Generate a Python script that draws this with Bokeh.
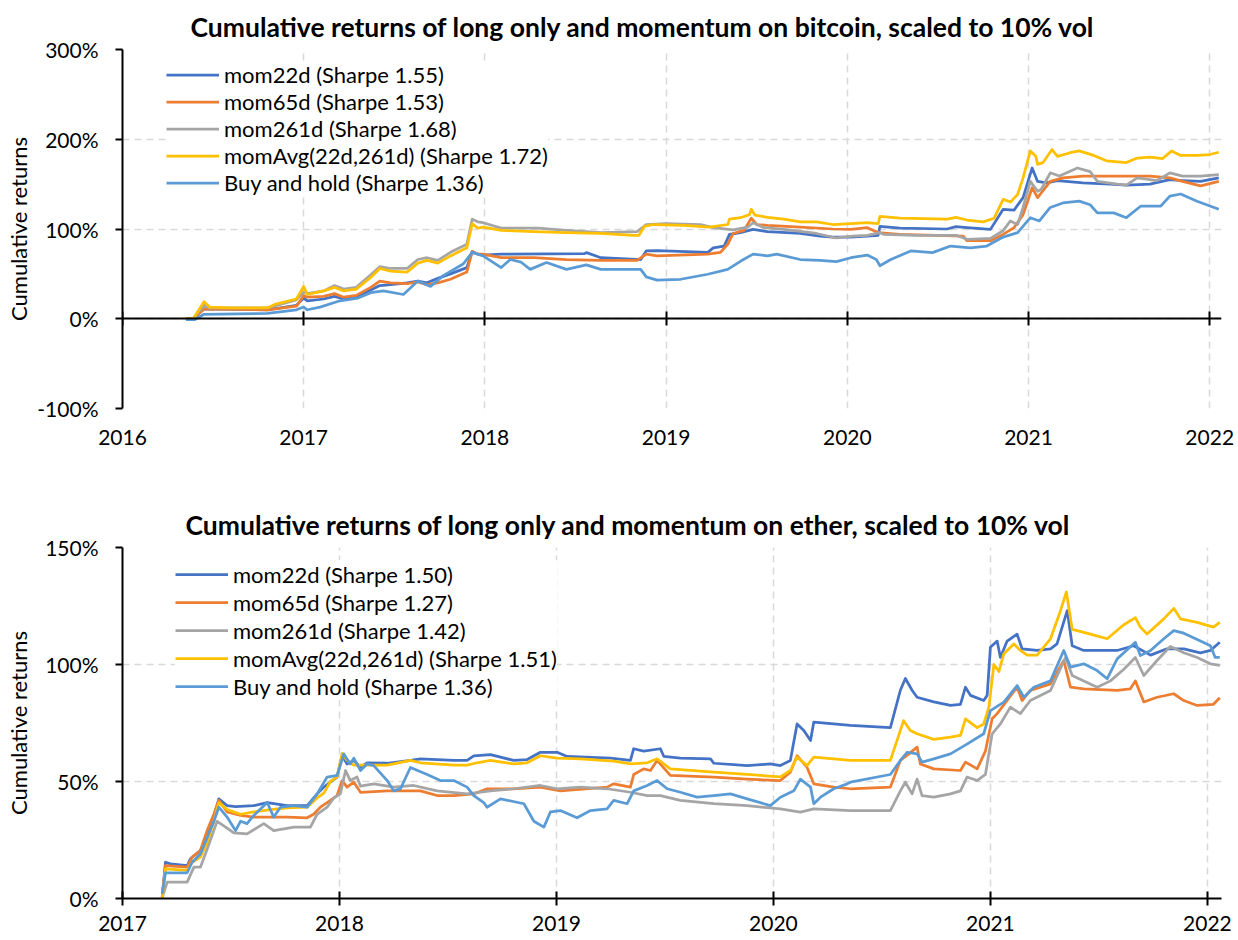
from bokeh.plotting import figure
from bokeh.models import (Range1d, FixedTicker, NumeralTickFormatter, PrintfTickFormatter,
                          LinearAxis, Legend, LegendItem, CustomJSTickFormatter)
from bokeh.layouts import column
from bokeh.embed import file_html
from bokeh.resources import INLINE

FONT = "Lato"
SERIES_NAMES = ["mom22d", "mom65d", "mom261d", "momAvg(22d,261d)", "Buy and hold"]
COLORS = ["#4472C4", "#ED7D31", "#A5A5A5", "#FFC000", "#5B9BD5"]

btc_title = "Cumulative returns of long only and momentum on bitcoin, scaled to 10% vol"
eth_title = "Cumulative returns of long only and momentum on ether, scaled to 10% vol"
btc_sharpe = ["1.55", "1.53", "1.68", "1.72", "1.36"]
eth_sharpe = ["1.50", "1.27", "1.42", "1.51", "1.36"]
btc_year_ticks = [2016, 2017, 2018, 2019, 2020, 2021, 2022]
eth_year_ticks = [2017, 2018, 2019, 2020, 2021, 2022]
btc_pct_ticks = [-100, 0, 100, 200, 300]
eth_pct_ticks = [0, 50, 100, 150]

# (decimal year, cumulative return in %)
btc_mom22d = [
    (2016.35, 0), (2016.39, 0), (2016.45, 11), (2016.80, 10), (2016.96, 15), (2017.00, 23),
    (2017.02, 20), (2017.11, 22), (2017.17, 25), (2017.22, 22), (2017.29, 24), (2017.37, 32),
    (2017.42, 37), (2017.48, 38), (2017.57, 40), (2017.63, 42), (2017.68, 40), (2017.74, 45),
    (2017.81, 50), (2017.90, 57), (2017.93, 75), (2017.96, 72), (2017.99, 71), (2018.09, 72),
    (2018.55, 72.6), (2018.56, 73.7), (2018.64, 68), (2018.86, 66), (2018.89, 75.5), (2018.95, 76),
    (2019.23, 74), (2019.26, 79), (2019.32, 81), (2019.35, 94), (2019.41, 96), (2019.48, 99.6),
    (2019.56, 97), (2019.74, 95), (2019.85, 92), (2019.92, 91), (2020.02, 91), (2020.11, 92),
    (2020.17, 93), (2020.18, 103), (2020.29, 101), (2020.55, 100), (2020.60, 102.6), (2020.66, 101.5),
    (2020.79, 99.6), (2020.86, 122), (2020.92, 121), (2020.97, 135), (2021.02, 168), (2021.05, 153),
    (2021.10, 151.5), (2021.16, 154), (2021.30, 151.5), (2021.45, 150), (2021.54, 149), (2021.67, 150),
    (2021.78, 155), (2021.85, 154), (2021.95, 153), (2022.05, 157)]
btc_mom65d = [
    (2016.35, 0), (2016.39, 0), (2016.45, 11), (2016.80, 10), (2016.96, 14), (2017.00, 26),
    (2017.02, 24), (2017.11, 25), (2017.17, 28), (2017.22, 24), (2017.29, 26), (2017.37, 35),
    (2017.42, 42), (2017.48, 40), (2017.57, 39), (2017.63, 41), (2017.68, 38), (2017.74, 40),
    (2017.81, 44), (2017.90, 52), (2017.93, 75), (2017.96, 72), (2017.99, 72), (2018.09, 68),
    (2018.27, 68), (2018.45, 66), (2018.64, 65), (2018.84, 65), (2018.89, 72), (2018.95, 70),
    (2019.23, 72), (2019.30, 74), (2019.34, 83), (2019.37, 95), (2019.43, 98.5), (2019.47, 112),
    (2019.50, 105), (2019.56, 104), (2019.74, 102), (2019.92, 100), (2020.02, 99.6), (2020.11, 101.5),
    (2020.17, 96), (2020.29, 94), (2020.64, 92), (2020.66, 87), (2020.79, 87), (2020.86, 94),
    (2020.92, 101.5), (2020.97, 116), (2021.02, 146), (2021.05, 135), (2021.12, 153), (2021.19, 157),
    (2021.30, 159), (2021.49, 159), (2021.67, 159), (2021.78, 157), (2021.85, 153), (2021.95, 148),
    (2022.05, 153)]
btc_mom261d = [
    (2016.35, 0), (2016.39, 0), (2016.45, 15), (2016.48, 12), (2016.80, 12), (2016.96, 21),
    (2017.00, 30), (2017.02, 28), (2017.11, 31), (2017.17, 37), (2017.22, 33), (2017.29, 35),
    (2017.37, 49), (2017.42, 58), (2017.48, 56), (2017.57, 56), (2017.63, 66), (2017.68, 68),
    (2017.74, 65), (2017.81, 74), (2017.90, 83), (2017.93, 111), (2017.96, 108), (2017.99, 107),
    (2018.09, 101), (2018.29, 101), (2018.45, 98.5), (2018.64, 96), (2018.84, 97), (2018.89, 105),
    (2019.00, 106), (2019.19, 105), (2019.26, 101.5), (2019.37, 99), (2019.45, 102), (2019.48, 107),
    (2019.54, 101.5), (2019.65, 99.6), (2019.83, 95), (2019.94, 90), (2020.03, 92), (2020.11, 93),
    (2020.18, 96), (2020.20, 94), (2020.38, 93), (2020.60, 93), (2020.66, 88.5), (2020.79, 89.6),
    (2020.86, 98), (2020.90, 109), (2020.94, 105), (2020.97, 124), (2021.01, 153), (2021.05, 142),
    (2021.07, 144), (2021.12, 162.6), (2021.17, 159), (2021.27, 168), (2021.34, 164), (2021.38, 153),
    (2021.49, 150), (2021.54, 149), (2021.60, 157), (2021.71, 154), (2021.78, 162.6), (2021.85, 159),
    (2021.95, 159), (2022.05, 160.7)]
btc_momavg = [
    (2016.35, 0), (2016.39, 0), (2016.45, 19), (2016.48, 13), (2016.60, 12), (2016.80, 12),
    (2016.84, 16), (2016.96, 22), (2017.00, 36), (2017.02, 27), (2017.11, 31), (2017.17, 35),
    (2017.22, 31), (2017.29, 33), (2017.37, 46), (2017.42, 56), (2017.48, 53), (2017.57, 52),
    (2017.63, 62), (2017.68, 65), (2017.74, 62), (2017.81, 70), (2017.90, 79), (2017.93, 106),
    (2017.96, 101), (2017.99, 102), (2018.09, 98.5), (2018.27, 97), (2018.45, 96), (2018.64, 95),
    (2018.82, 93), (2018.85, 93), (2018.88, 103), (2018.93, 105), (2019.10, 104), (2019.24, 102),
    (2019.34, 105), (2019.35, 111), (2019.41, 112.6), (2019.46, 116), (2019.47, 122), (2019.49, 115.5),
    (2019.56, 113), (2019.65, 111), (2019.74, 108), (2019.83, 108), (2019.92, 105), (2020.02, 106),
    (2020.11, 107), (2020.17, 106), (2020.18, 114), (2020.29, 112), (2020.55, 111), (2020.60, 113),
    (2020.66, 110), (2020.75, 108), (2020.81, 112), (2020.86, 133), (2020.90, 130), (2020.94, 138.5),
    (2020.97, 157), (2021.01, 187), (2021.04, 181), (2021.05, 172), (2021.08, 174), (2021.13, 188.5),
    (2021.16, 181), (2021.23, 185), (2021.28, 187), (2021.36, 182), (2021.43, 176), (2021.54, 174),
    (2021.60, 179), (2021.67, 180), (2021.74, 178.5), (2021.79, 187), (2021.84, 182), (2021.93, 182),
    (2022.00, 183), (2022.05, 185.5)]
btc_buyhold = [
    (2016.35, -1), (2016.40, -1), (2016.45, 5), (2016.80, 6), (2016.96, 10), (2017.00, 13),
    (2017.02, 10), (2017.09, 13), (2017.20, 20), (2017.30, 23), (2017.37, 29), (2017.44, 31),
    (2017.55, 27), (2017.63, 42), (2017.70, 36), (2017.77, 48), (2017.88, 61), (2017.93, 74),
    (2017.99, 70), (2018.09, 57), (2018.14, 66), (2018.20, 63), (2018.25, 55), (2018.34, 62.6),
    (2018.45, 55), (2018.56, 60), (2018.64, 55), (2018.86, 55), (2018.89, 46.7), (2018.95, 43),
    (2019.08, 44), (2019.23, 49.6), (2019.34, 55), (2019.41, 64), (2019.48, 72), (2019.56, 70),
    (2019.61, 72), (2019.74, 66), (2019.85, 65), (2019.94, 63.7), (2020.02, 68), (2020.11, 71),
    (2020.16, 66), (2020.18, 59), (2020.24, 66), (2020.35, 75.5), (2020.47, 73.7), (2020.57, 81),
    (2020.68, 79), (2020.77, 81), (2020.86, 91), (2020.94, 96), (2021.01, 112.6), (2021.06, 109),
    (2021.12, 124), (2021.19, 129), (2021.28, 131), (2021.34, 127), (2021.38, 118), (2021.47, 118),
    (2021.54, 112.6), (2021.62, 125.6), (2021.73, 125.6), (2021.78, 136.7), (2021.84, 139),
    (2021.93, 131), (2022.05, 122)]

eth_mom22d = [
    (2017.183, 0.6), (2017.198, 15.5), (2017.221, 14.8), (2017.298, 14), (2017.313, 17), (2017.359, 20.5),
    (2017.390, 26), (2017.421, 35), (2017.444, 42.6), (2017.482, 39.7), (2017.521, 39.3), (2017.605, 39.7),
    (2017.667, 41), (2017.759, 39.7), (2017.851, 39.7), (2017.897, 44.7), (2017.928, 47.6), (2017.958, 49.7),
    (2017.989, 51.9), (2018.012, 61), (2018.035, 57.5), (2018.066, 59), (2018.097, 56), (2018.127, 58),
    (2018.220, 57.8), (2018.327, 59), (2018.373, 59.7), (2018.527, 59), (2018.588, 59), (2018.619, 61),
    (2018.696, 61.5), (2018.803, 59), (2018.865, 59.4), (2018.926, 62.5), (2019.003, 62.5), (2019.049, 60.7),
    (2019.249, 60), (2019.341, 59), (2019.356, 64), (2019.402, 63), (2019.479, 64), (2019.495, 60.7),
    (2019.571, 60), (2019.710, 59.7), (2019.725, 57.8), (2019.879, 56.8), (2019.986, 57.5), (2020.032, 56.8),
    (2020.078, 59), (2020.109, 74.6), (2020.140, 71.8), (2020.171, 67.5), (2020.186, 75.4), (2020.355, 74),
    (2020.539, 73), (2020.585, 89), (2020.608, 94), (2020.639, 89), (2020.662, 86), (2020.739, 84),
    (2020.816, 82.5), (2020.862, 83), (2020.885, 90.3), (2020.908, 86.8), (2020.969, 84.6), (2020.985, 86.8),
    (2021.000, 107.4), (2021.031, 110), (2021.046, 103), (2021.077, 110), (2021.123, 113), (2021.146, 106.7),
    (2021.215, 106), (2021.277, 106.7), (2021.307, 108.8), (2021.354, 123), (2021.377, 108), (2021.430, 106),
    (2021.584, 106), (2021.660, 108), (2021.738, 104), (2021.814, 106.7), (2021.891, 106.7), (2021.968, 105),
    (2022.014, 106), (2022.057, 109.5)]
eth_mom65d = [
    (2017.183, 0.6), (2017.198, 14), (2017.298, 13.4), (2017.321, 17.7), (2017.359, 20.5), (2017.390, 29),
    (2017.421, 36), (2017.444, 42), (2017.482, 37), (2017.544, 35.5), (2017.605, 34.8), (2017.759, 34.8),
    (2017.851, 34.5), (2017.881, 36), (2017.912, 39), (2017.943, 41), (2017.989, 44), (2018.012, 50.4),
    (2018.035, 47.6), (2018.066, 49.7), (2018.097, 45.4), (2018.220, 46), (2018.373, 46), (2018.450, 44),
    (2018.527, 44), (2018.619, 44.7), (2018.681, 46.9), (2018.803, 46.9), (2018.926, 47.6), (2019.018, 46),
    (2019.233, 47.6), (2019.264, 49), (2019.341, 47.6), (2019.356, 53), (2019.402, 55.4), (2019.433, 54.7),
    (2019.464, 59), (2019.525, 52.6), (2019.725, 51.9), (2019.879, 51), (2020.032, 50.4), (2020.078, 54),
    (2020.109, 61), (2020.155, 56), (2020.186, 49), (2020.278, 47.6), (2020.355, 46.9), (2020.539, 47.6),
    (2020.585, 59), (2020.624, 61.8), (2020.662, 64.7), (2020.677, 57.5), (2020.739, 55.4), (2020.862, 54.7),
    (2020.885, 58.3), (2020.939, 55.4), (2020.977, 63), (2021.008, 76.8), (2021.031, 79), (2021.077, 84.6),
    (2021.123, 90.3), (2021.146, 84.6), (2021.184, 88.9), (2021.277, 91.7), (2021.338, 101.7), (2021.369, 90.3),
    (2021.430, 89.6), (2021.584, 88.9), (2021.645, 89.6), (2021.668, 93), (2021.707, 84), (2021.768, 86),
    (2021.845, 87.5), (2021.891, 84.6), (2021.953, 82.5), (2022.028, 83), (2022.057, 85.8)]
eth_mom261d = [
    (2017.183, 0.3), (2017.206, 7), (2017.298, 7), (2017.329, 13.4), (2017.359, 13.4), (2017.390, 21),
    (2017.436, 33), (2017.467, 31), (2017.513, 28), (2017.574, 27.6), (2017.651, 32), (2017.697, 29),
    (2017.790, 30.5), (2017.866, 30.5), (2017.897, 36), (2017.943, 39), (2017.974, 43), (2018.004, 44.7),
    (2018.028, 54.7), (2018.050, 50.4), (2018.081, 51.9), (2018.097, 48), (2018.158, 49), (2018.250, 47.6),
    (2018.342, 48.3), (2018.450, 46), (2018.588, 44.7), (2018.696, 46), (2018.803, 46.9), (2018.926, 48.3),
    (2019.003, 46.9), (2019.110, 47.6), (2019.233, 46.9), (2019.341, 45.4), (2019.418, 44), (2019.479, 44),
    (2019.571, 41.9), (2019.725, 40.5), (2019.879, 39.7), (2020.032, 38.3), (2020.124, 36.9), (2020.186, 38.3),
    (2020.355, 37.6), (2020.539, 37.6), (2020.585, 46), (2020.608, 49.7), (2020.639, 44.7), (2020.662, 51),
    (2020.685, 44), (2020.739, 43.3), (2020.816, 44.7), (2020.862, 46), (2020.892, 51.9), (2020.939, 50.4),
    (2020.977, 53), (2021.008, 70.4), (2021.046, 74.6), (2021.092, 81.8), (2021.138, 79), (2021.184, 84.6),
    (2021.277, 88.9), (2021.346, 103), (2021.377, 95.3), (2021.430, 93), (2021.492, 90.3), (2021.553, 93),
    (2021.615, 98), (2021.668, 103), (2021.707, 95.3), (2021.768, 101.7), (2021.829, 107.7), (2021.891, 105),
    (2021.953, 103), (2022.014, 100.3), (2022.057, 99.6)]
eth_momavg = [
    (2017.183, 0), (2017.198, 12.7), (2017.298, 12), (2017.321, 15.5), (2017.359, 17.7), (2017.390, 24),
    (2017.421, 33), (2017.444, 41), (2017.482, 38), (2017.544, 36), (2017.605, 37), (2017.682, 38),
    (2017.759, 38.7), (2017.851, 39), (2017.897, 43), (2017.928, 45), (2017.958, 50), (2017.989, 52),
    (2018.012, 62), (2018.035, 59), (2018.066, 57), (2018.127, 57), (2018.220, 57), (2018.327, 59),
    (2018.373, 58), (2018.527, 57), (2018.588, 57), (2018.634, 58), (2018.696, 59), (2018.803, 57.5),
    (2018.865, 58), (2018.926, 61), (2019.003, 60), (2019.110, 59.7), (2019.264, 58.7), (2019.341, 57.5),
    (2019.418, 58), (2019.464, 59.7), (2019.525, 55.4), (2019.725, 54), (2019.879, 53), (2020.032, 52),
    (2020.078, 54.7), (2020.109, 60.4), (2020.155, 56.8), (2020.186, 60.4), (2020.355, 59), (2020.539, 59),
    (2020.600, 76), (2020.631, 71.8), (2020.662, 70.4), (2020.739, 68), (2020.816, 69), (2020.862, 69.7),
    (2020.885, 76.8), (2020.939, 73), (2020.969, 74.6), (2020.993, 81.8), (2021.016, 100), (2021.039, 97),
    (2021.062, 104.6), (2021.108, 108.8), (2021.138, 106), (2021.169, 104), (2021.215, 104), (2021.277, 111),
    (2021.323, 123), (2021.350, 131), (2021.377, 115), (2021.461, 113), (2021.538, 111), (2021.615, 117),
    (2021.668, 120), (2021.691, 116), (2021.722, 113), (2021.799, 119.5), (2021.845, 124), (2021.876, 119.5),
    (2021.953, 118), (2022.028, 116), (2022.057, 118)]
eth_buyhold = [
    (2017.183, 2), (2017.198, 11), (2017.298, 11), (2017.321, 15.5), (2017.359, 19), (2017.390, 26),
    (2017.421, 33), (2017.444, 39), (2017.482, 34.8), (2017.521, 29), (2017.544, 33), (2017.574, 32),
    (2017.605, 35.5), (2017.667, 41), (2017.697, 34.8), (2017.728, 39), (2017.790, 39.7), (2017.851, 39),
    (2017.897, 44.7), (2017.943, 51.9), (2017.989, 52.6), (2018.020, 61.8), (2018.050, 57.5), (2018.066, 60),
    (2018.097, 54.7), (2018.127, 57.5), (2018.158, 56.8), (2018.220, 50.4), (2018.250, 46), (2018.281, 46.9),
    (2018.327, 56), (2018.404, 53), (2018.465, 50.4), (2018.527, 50.4), (2018.588, 47.6), (2018.619, 44),
    (2018.665, 41), (2018.680, 39), (2018.742, 42.6), (2018.850, 40.5), (2018.896, 33), (2018.942, 30.5),
    (2018.972, 37), (2019.018, 37.6), (2019.095, 34.5), (2019.157, 37.6), (2019.233, 38.3), (2019.264, 41.9),
    (2019.326, 40.5), (2019.356, 46), (2019.418, 48.3), (2019.464, 50.4), (2019.510, 46.9), (2019.571, 45.4),
    (2019.648, 43.3), (2019.725, 44), (2019.802, 44.7), (2019.879, 42.6), (2019.956, 40.5), (2019.986, 39.7),
    (2020.032, 43.3), (2020.094, 46), (2020.124, 51), (2020.171, 47.6), (2020.186, 40.5), (2020.217, 43.3),
    (2020.278, 46.9), (2020.340, 49), (2020.355, 49.7), (2020.539, 53), (2020.585, 59), (2020.616, 62.5),
    (2020.662, 61.8), (2020.685, 58.3), (2020.739, 59.7), (2020.816, 61.8), (2020.892, 66), (2020.969, 70.4),
    (2021.000, 80.3), (2021.062, 83.9), (2021.123, 91), (2021.154, 86), (2021.200, 90.3), (2021.277, 93),
    (2021.338, 106), (2021.369, 98.9), (2021.430, 100.3), (2021.492, 97.4), (2021.538, 93.9), (2021.584, 102.4),
    (2021.668, 109.5), (2021.691, 103.8), (2021.738, 106), (2021.799, 111), (2021.845, 114.5), (2021.891, 113.4),
    (2021.968, 110), (2022.014, 108), (2022.036, 103), (2022.057, 103)]

btc_series = [btc_mom22d, btc_mom65d, btc_mom261d, btc_momavg, btc_buyhold]
eth_series = [eth_mom22d, eth_mom65d, eth_mom261d, eth_momavg, eth_buyhold]


def make_chart(title, series, sharpes, xticks, yticks, x_range, y_range, height,
               border_top, border_bottom, title_offset, legend_loc, row_h, zero_axis,
               ylabel_standoff, xlabel_standoff):
    p = figure(width=1238, height=height, output_backend="svg", toolbar_location=None,
               x_range=Range1d(*x_range), y_range=Range1d(*y_range),
               min_border_left=122, min_border_right=17,
               min_border_top=border_top, min_border_bottom=border_bottom,
               background_fill_color="white", border_fill_color="white",
               outline_line_color=None)
    p.title.text = title
    p.title.text_font = FONT
    p.title.text_font_size = "26.5px"
    p.title.text_font_style = "bold"
    p.title.text_color = "black"
    p.title.align = "left"
    p.title.offset = title_offset
    p.title.standoff = 14

    for g in (p.xgrid[0], p.ygrid[0]):
        g.grid_line_color = "#D9D9D9"
        g.grid_line_width = 1.5
        g.grid_line_dash = "7 5"

    xa = p.xaxis[0]
    xa.ticker = FixedTicker(ticks=xticks)
    xa.formatter = NumeralTickFormatter(format="0")
    xa.major_label_text_font = FONT
    xa.major_label_text_font_size = "21px"
    xa.major_label_text_color = "black"
    xa.minor_tick_line_color = None
    xa.major_label_standoff = xlabel_standoff
    if zero_axis:
        xa.axis_line_color = None
        xa.major_tick_line_color = None
        za = LinearAxis(fixed_location=0, ticker=FixedTicker(ticks=xticks),
                        formatter=CustomJSTickFormatter(code="return ''"),
                        axis_line_color="black", axis_line_width=2,
                        major_tick_in=7, major_tick_out=7, major_tick_line_width=2,
                        major_tick_line_color="black", minor_tick_line_color=None)
        p.add_layout(za, "below")
    else:
        xa.axis_line_color = "black"
        xa.axis_line_width = 2
        xa.major_tick_in = 7
        xa.major_tick_out = 7
        xa.major_tick_line_width = 2
        xa.major_tick_line_color = "black"

    ya = p.yaxis[0]
    ya.ticker = FixedTicker(ticks=yticks)
    ya.formatter = PrintfTickFormatter(format="%d%%")
    ya.axis_line_color = "black"
    ya.axis_line_width = 2
    ya.major_tick_in = 0
    ya.major_tick_out = 7
    ya.major_tick_line_width = 2
    ya.major_tick_line_color = "black"
    ya.minor_tick_line_color = None
    ya.major_label_standoff = 17
    ya.major_label_text_font = FONT
    ya.major_label_text_font_size = "21px"
    ya.major_label_text_color = "black"
    ya.axis_label = "Cumulative returns"
    ya.axis_label_text_font = FONT
    ya.axis_label_text_font_size = "22px"
    ya.axis_label_text_font_style = "normal"
    ya.axis_label_text_color = "black"
    ya.axis_label_standoff = ylabel_standoff

    items = []
    for name, sharpe, color, data in zip(SERIES_NAMES, sharpes, COLORS, series):
        xs = [d[0] for d in data]
        ys = [d[1] for d in data]
        r = p.line(xs, ys, line_color=color, line_width=2.75, line_join="round")
        items.append(LegendItem(label=f"{name} (Sharpe {sharpe})", renderers=[r]))

    legend = Legend(items=items, location=legend_loc)
    legend.label_text_font = FONT
    legend.label_text_font_size = "22px"
    legend.label_text_color = "black"
    legend.glyph_width = 53
    legend.glyph_height = row_h
    legend.label_height = row_h
    legend.spacing = 0
    legend.padding = 6
    legend.margin = 0
    legend.label_standoff = 5
    legend.border_line_color = None
    legend.background_fill_color = "white"
    legend.background_fill_alpha = 1.0
    p.add_layout(legend)
    return p


p1 = make_chart(btc_title, btc_series, btc_sharpe, btc_year_ticks, btc_pct_ticks,
                (2016, 2022.065), (-100, 300), 498, 49, 90, 68, (44, 212), 27, True, 2, 15)
p2 = make_chart(eth_title, eth_series, eth_sharpe, eth_year_ticks, eth_pct_ticks,
                (2017, 2022.065), (0, 150), 442, 49, 42, 63, (53, 198), 28, False, 10, 10)

layout = column(p1, p2, spacing=0)
open("out.html", "w").write(file_html(layout, INLINE))
